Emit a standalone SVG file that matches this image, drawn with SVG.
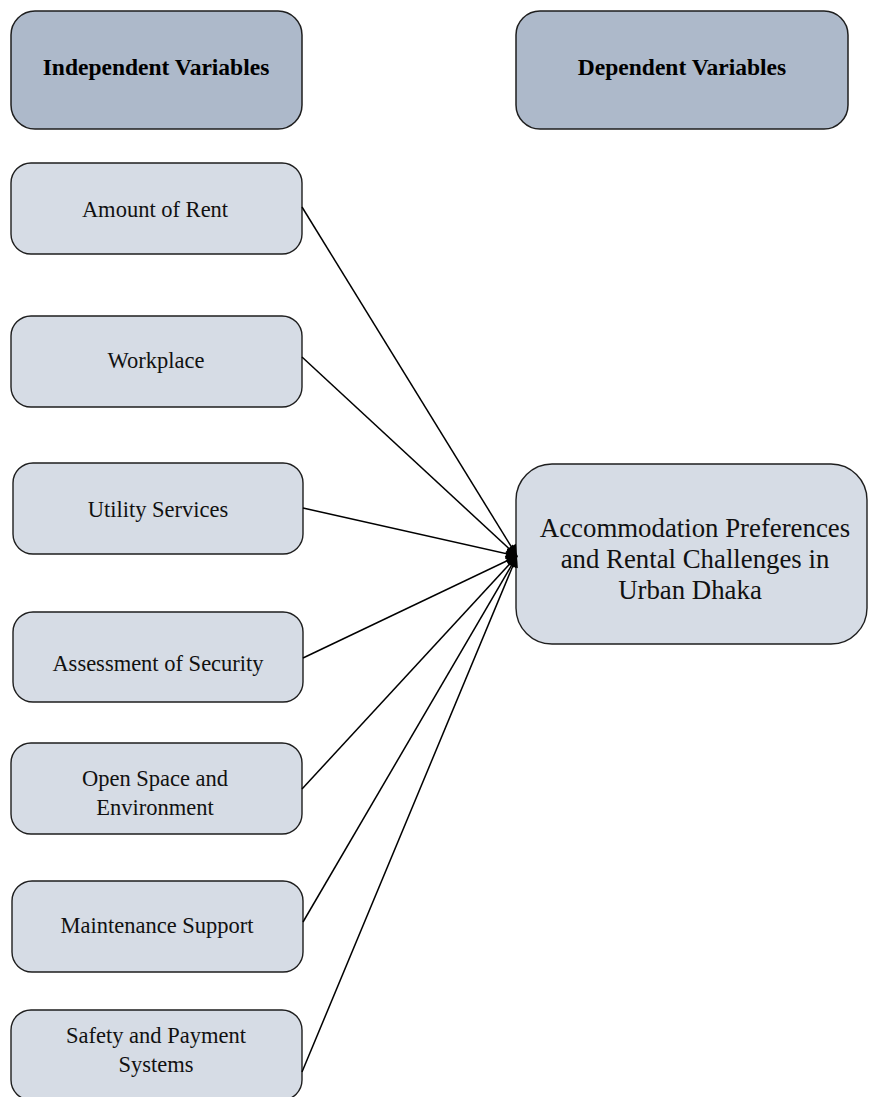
<svg xmlns="http://www.w3.org/2000/svg" width="870" height="1097" viewBox="0 0 870 1097">
  <style>
    .hdr rect { fill: #adb9ca; stroke: #1e1e1e; stroke-width: 1.5; }
    .var rect { fill: #d6dce5; stroke: #1e1e1e; stroke-width: 1.4; }
    .hdr text { font-family: "Liberation Serif", "Times New Roman", serif; font-weight: bold; font-size: 23.5px; fill: #000; text-anchor: middle; }
    .var text { font-family: "Liberation Serif", "Times New Roman", serif; font-size: 22.5px; fill: #111; text-anchor: middle; }
    .main text { font-size: 26.8px; }
    #connectors line { stroke: #000; stroke-width: 1.5; marker-end: url(#arrow); }
  </style>
  <defs>
    <marker id="arrow" viewBox="0 0 10 10" refX="10" refY="5" markerWidth="14" markerHeight="11" markerUnits="userSpaceOnUse" orient="auto">
      <path d="M0,0 L10,5 L0,10 Z" fill="#000"/>
    </marker>
  </defs>
  <rect width="870" height="1097" fill="#fff"/>

  <!-- column headers -->
  <g id="independent-header" class="hdr">
    <rect x="11" y="11" width="291" height="118" rx="24"/>
    <text x="156" y="75">Independent Variables</text>
  </g>
  <g id="dependent-header" class="hdr">
    <rect x="516" y="11" width="332" height="118" rx="24"/>
    <text x="682" y="75">Dependent Variables</text>
  </g>

  <!-- independent variables -->
  <g id="amount-of-rent" class="var">
    <rect x="11" y="163" width="291" height="91" rx="20"/>
    <text x="155" y="217">Amount of Rent</text>
  </g>
  <g id="workplace" class="var">
    <rect x="11" y="316" width="291" height="91" rx="20"/>
    <text x="156" y="368">Workplace</text>
  </g>
  <g id="utility-services" class="var">
    <rect x="13" y="463" width="290" height="91" rx="20"/>
    <text x="158" y="517">Utility Services</text>
  </g>
  <g id="assessment-of-security" class="var">
    <rect x="13" y="612" width="290" height="90" rx="20"/>
    <text x="158" y="671">Assessment of Security</text>
  </g>
  <g id="open-space" class="var">
    <rect x="11" y="743" width="291" height="91" rx="20"/>
    <text x="155" y="786">Open Space and</text>
    <text x="155" y="815">Environment</text>
  </g>
  <g id="maintenance-support" class="var">
    <rect x="12" y="881" width="291" height="91" rx="20"/>
    <text x="157" y="933">Maintenance Support</text>
  </g>
  <g id="safety-payment" class="var">
    <rect x="11" y="1010" width="291" height="90" rx="20"/>
    <text x="156" y="1043">Safety and Payment</text>
    <text x="156" y="1072">Systems</text>
  </g>

  <!-- dependent variable -->
  <g id="accommodation" class="var main">
    <rect x="516" y="464" width="351" height="180" rx="36"/>
    <text x="695" y="537">Accommodation Preferences</text>
    <text x="695" y="568">and Rental Challenges in</text>
    <text x="690" y="599">Urban Dhaka</text>
  </g>

  <!-- connectors -->
  <g id="connectors">
    <line x1="302" y1="207" x2="517" y2="556"/>
    <line x1="302" y1="357" x2="517" y2="556"/>
    <line x1="303" y1="508" x2="517" y2="556"/>
    <line x1="303" y1="658" x2="517" y2="556"/>
    <line x1="302" y1="789" x2="517" y2="556"/>
    <line x1="303" y1="922" x2="517" y2="556"/>
    <line x1="302" y1="1072" x2="517" y2="556"/>
  </g>
</svg>
